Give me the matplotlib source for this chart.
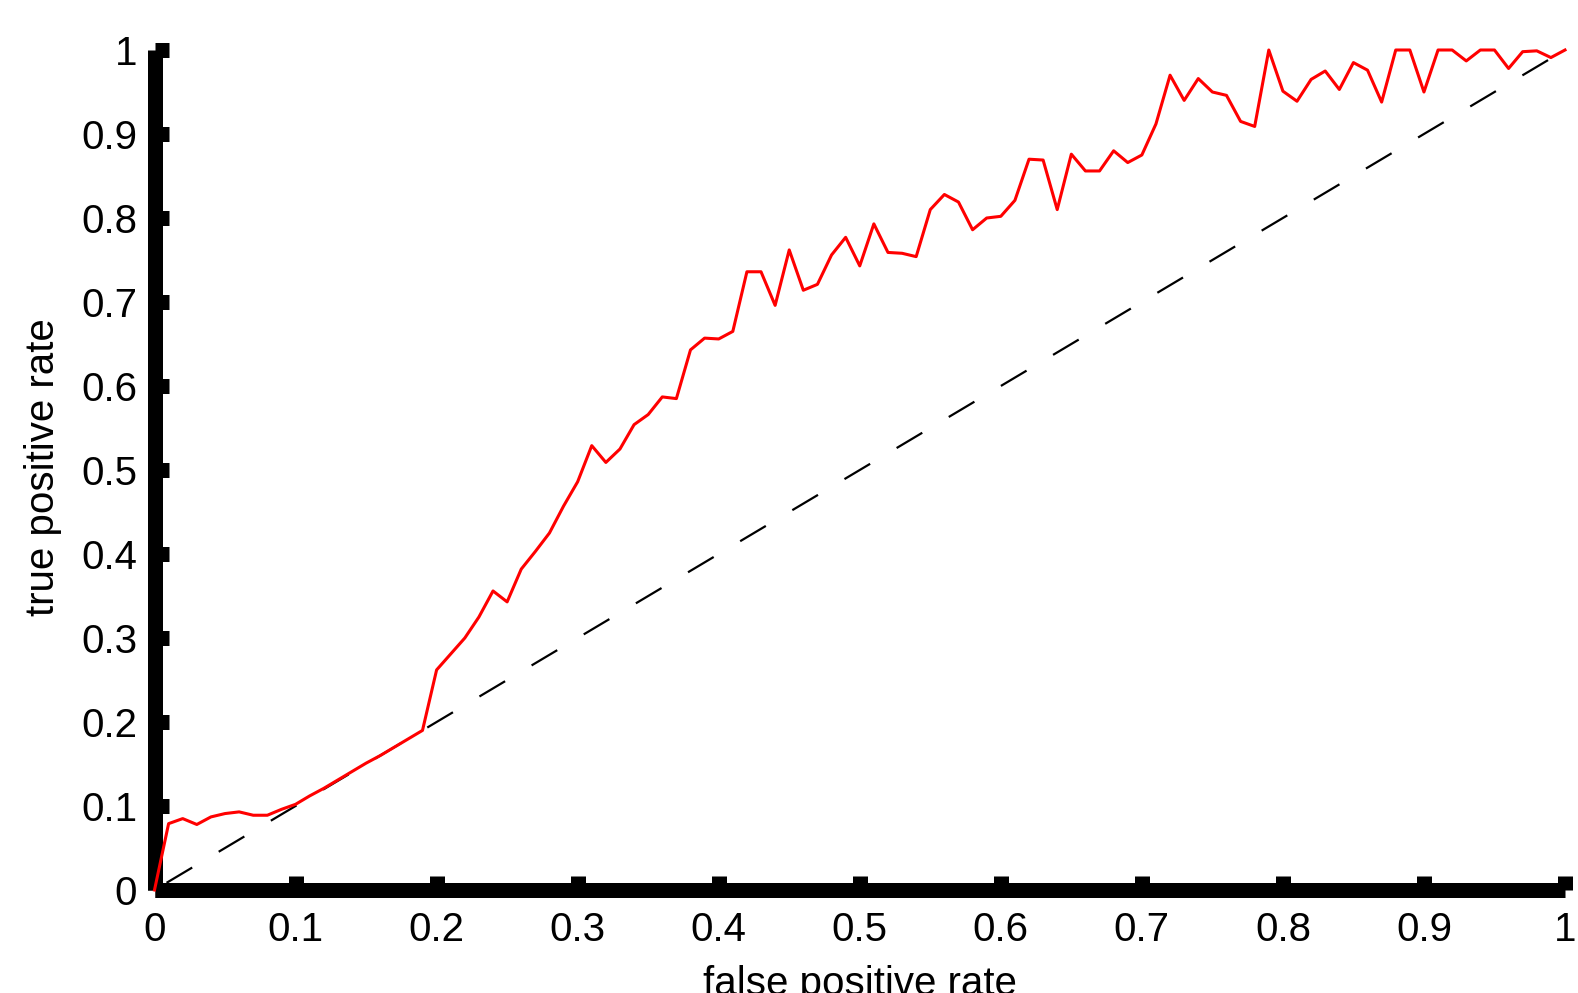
import matplotlib
matplotlib.use("Agg")
import matplotlib.pyplot as plt

plt.rcParams['font.family'] = ['Liberation Sans', 'DejaVu Sans']
plt.rcParams['lines.scale_dashes'] = False

# ROC curve
fpr = [0.00, 0.01, 0.02, 0.03, 0.04, 0.05, 0.06, 0.07, 0.08, 0.09,
       0.10, 0.11, 0.12, 0.13, 0.14, 0.15, 0.16, 0.17, 0.18, 0.19,
       0.20, 0.21, 0.22, 0.23, 0.24, 0.25, 0.26, 0.27, 0.28, 0.29,
       0.30, 0.31, 0.32, 0.33, 0.34, 0.35, 0.36, 0.37, 0.38, 0.39,
       0.40, 0.41, 0.42, 0.43, 0.44, 0.45, 0.46, 0.47, 0.48, 0.49,
       0.50, 0.51, 0.52, 0.53, 0.54, 0.55, 0.56, 0.57, 0.58, 0.59,
       0.60, 0.61, 0.62, 0.63, 0.64, 0.65, 0.66, 0.67, 0.68, 0.69,
       0.70, 0.71, 0.72, 0.73, 0.74, 0.75, 0.76, 0.77, 0.78, 0.79,
       0.80, 0.81, 0.82, 0.83, 0.84, 0.85, 0.86, 0.87, 0.88, 0.89,
       0.90, 0.91, 0.92, 0.93, 0.94, 0.95, 0.96, 0.97, 0.98, 0.99,
       1.00]
tpr = [0.000, 0.079, 0.085, 0.078, 0.087, 0.091, 0.093, 0.089, 0.089, 0.096,
       0.102, 0.112, 0.121, 0.131, 0.141, 0.151, 0.160, 0.170, 0.180, 0.190,
       0.262, 0.281, 0.300, 0.325, 0.356, 0.343, 0.382, 0.403, 0.425, 0.457,
       0.486, 0.529, 0.509, 0.525, 0.554, 0.566, 0.587, 0.585, 0.643, 0.657,
       0.656, 0.665, 0.736, 0.736, 0.696, 0.762, 0.714, 0.721, 0.756, 0.777,
       0.743, 0.793, 0.759, 0.758, 0.754, 0.810, 0.828, 0.819, 0.786, 0.800,
       0.802, 0.821, 0.870, 0.869, 0.810, 0.876, 0.856, 0.856, 0.880, 0.866,
       0.875, 0.912, 0.970, 0.940, 0.966, 0.950, 0.946, 0.915, 0.909, 1.000,
       0.951, 0.939, 0.965, 0.975, 0.953, 0.985, 0.976, 0.938, 1.000, 1.000,
       0.950, 1.000, 1.000, 0.987, 1.000, 1.000, 0.978, 0.998, 0.999, 0.991,
       1.000]
chance = [0, 1]

ticks = [0, 0.1, 0.2, 0.3, 0.4, 0.5, 0.6, 0.7, 0.8, 0.9, 1]
tick_labels = ['0', '0.1', '0.2', '0.3', '0.4', '0.5', '0.6', '0.7', '0.8', '0.9', '1']

fig = plt.figure(figsize=(15.78, 9.93), dpi=100)
ax = fig.add_axes([154.5 / 1578, 103 / 993, 1410.5 / 1578, 840 / 993])

ax.plot(chance, chance, color='black', lw=1.6,
        linestyle=(33.6, (21.5, 22.2)), dash_capstyle='butt', zorder=2)
ax.plot(fpr, tpr, color='#ff0000', lw=2.2, zorder=3, clip_on=False)

ax.set_xlim(0, 1)
ax.set_ylim(0, 1)
ax.set_xticks(ticks)
ax.set_xticklabels(tick_labels)
ax.set_yticks(ticks)
ax.set_yticklabels(tick_labels)

for side in ['top', 'right']:
    ax.spines[side].set_visible(False)
for side in ['left', 'bottom']:
    ax.spines[side].set_linewidth(10.8)
    ax.spines[side].set_capstyle('butt')

ax.tick_params(axis='both', direction='in', length=10, width=10.8,
               labelsize=29, color='black')
ax.tick_params(axis='x', pad=15)
ax.tick_params(axis='y', pad=12.5)

ax.set_xlabel('false positive rate', fontsize=29)
ax.set_ylabel('true positive rate', fontsize=29)
ax.xaxis.set_label_coords(0.5, -0.089)
ax.yaxis.set_label_coords(-0.0656, 0.503)

fig.savefig('out.png', dpi=100)
